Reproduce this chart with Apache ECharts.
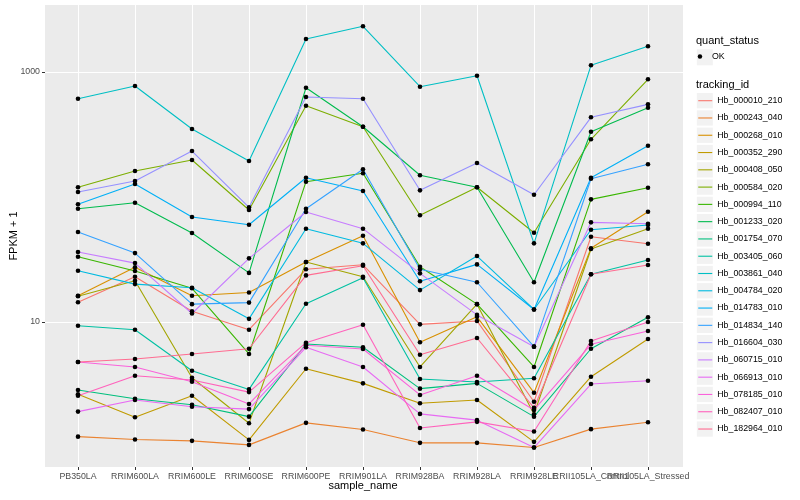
<!DOCTYPE html>
<html><head><meta charset="utf-8">
<script src="https://cdn.jsdelivr.net/npm/echarts@6/dist/echarts.min.js"></script>
<style>html,body{margin:0;padding:0;background:#fff}#chart{width:800px;height:500px}</style>
</head><body><div id="chart"></div>
<script>
const categories = ['PB350LA','RRIM600LA','RRIM600LE','RRIM600SE','RRIM600PE','RRIM901LA','RRIM928BA','RRIM928LA','RRIM928LE','RRII105LA_Control','RRII105LA_Stressed'];
const yTickLabels = [10, 1000];
const trackingIds = ['Hb_000010_210','Hb_000243_040','Hb_000268_010','Hb_000352_290','Hb_000408_050','Hb_000584_020','Hb_000994_110','Hb_001233_020','Hb_001754_070','Hb_003405_060','Hb_003861_040','Hb_004784_020','Hb_014783_010','Hb_014834_140','Hb_016604_030','Hb_060715_010','Hb_066913_010','Hb_078185_010','Hb_082407_010','Hb_182964_010'];
const quantStatus = ['OK'];

const Hb_000010_210 = [14.4, 23.0, 12.2, 8.68, 26.4, 28.7, 9.58, 10.2, 2.30, 48.1, 42.3];
const Hb_000243_040 = [1.21, 1.15, 1.12, 1.04, 1.56, 1.38, 1.08, 1.08, 0.99, 1.39, 1.58];
const Hb_000268_010 = [16.2, 27.4, 16.2, 17.2, 30.2, 49.0, 6.88, 11.0, 2.72, 38.9, 76.3];
const Hb_000352_290 = [2.64, 1.73, 2.57, 1.14, 4.23, 3.23, 2.24, 2.38, 1.10, 3.65, 7.31];
const Hb_000408_050 = [16.1, 21.4, 3.58, 1.55, 30.2, 23.0, 4.37, 13.9, 1.83, 38.4, 55.8];
const Hb_000584_020 = [119.6, 161.4, 197.7, 78.7, 537.5, 365.1, 71.4, 119.6, 51.8, 289.4, 874];
const Hb_000994_110 = [33.3, 25.6, 18.6, 5.55, 132.6, 154.7, 27.7, 13.9, 4.37, 95.8, 118.7];
const Hb_001233_020 = [80.6, 90.0, 51.5, 24.7, 748.7, 365, 149.2, 119.6, 20.8, 333, 518];
const Hb_001754_070 = [2.86, 2.43, 2.18, 1.75, 6.67, 6.28, 2.93, 3.23, 1.75, 6.11, 10.9];
const Hb_003405_060 = [9.34, 8.68, 4.08, 2.89, 14.0, 22.6, 3.50, 3.31, 3.55, 24.1, 31.3];
const Hb_003861_040 = [611, 773, 350, 194, 1837, 2321, 763, 934, 42.6, 1131, 1605];
const Hb_004784_020 = [25.7, 20.1, 18.8, 10.6, 55.8, 42.6, 18.0, 33.7, 12.6, 54.7, 59.7];
const Hb_014783_010 = [87.4, 127.1, 69.2, 60.0, 142.7, 111.7, 21.2, 28.9, 12.6, 142.7, 257.3];
const Hb_014834_140 = [52.5, 35.6, 13.9, 14.3, 80.6, 166.6, 26.4, 20.8, 6.35, 140.1, 182.6];
const Hb_016604_030 = [109.6, 134.3, 233.3, 82.7, 631, 611, 113.1, 187.1, 104.3, 434, 551];
const Hb_060715_010 = [36.3, 29.6, 11.7, 32.3, 75.9, 55.8, 24.5, 11.4, 6.35, 62.7, 61.1];
const Hb_066913_010 = [1.92, 2.38, 2.10, 2.01, 6.28, 4.37, 1.84, 1.64, 0.99, 3.19, 3.39];
const Hb_078185_010 = [4.79, 4.37, 3.33, 2.21, 6.51, 6.08, 2.61, 3.72, 1.98, 6.63, 8.47];
const Hb_082407_010 = [2.57, 3.72, 3.44, 2.75, 6.83, 9.51, 1.42, 1.59, 1.33, 7.05, 10.0];
const Hb_182964_010 = [4.79, 5.06, 5.55, 6.11, 23.6, 28.2, 5.47, 7.45, 2.06, 24.1, 28.6];

const seriesValues = [Hb_000010_210, Hb_000243_040, Hb_000268_010, Hb_000352_290, Hb_000408_050, Hb_000584_020, Hb_000994_110, Hb_001233_020, Hb_001754_070, Hb_003405_060, Hb_003861_040, Hb_004784_020, Hb_014783_010, Hb_014834_140, Hb_016604_030, Hb_060715_010, Hb_066913_010, Hb_078185_010, Hb_082407_010, Hb_182964_010];

const palette = ['#F8766D','#EA8331','#D89000','#C09B00','#A3A500','#7CAE00','#39B600','#00BB4E','#00BF7D','#00C1A3','#00BFC4','#00BAE0','#00B0F6','#35A2FF','#9590FF','#C77CFF','#E76BF3','#FA62DB','#FF62BC','#FF6C91'];

const FONT = '"Liberation Sans", Arial, Helvetica, sans-serif';
const yMin = 0.692, yMax = 3436;

const chart = echarts.init(document.getElementById('chart'), null, {renderer: 'canvas'});

const lineSeries = trackingIds.map((id, i) => ({
  name: id, type: 'line', xAxisIndex: 1, yAxisIndex: 1,
  data: seriesValues[i], symbol: 'none', showSymbol: false,
  lineStyle: {color: palette[i], width: 1.1},
  itemStyle: {color: palette[i]},
  emphasis: {disabled: true}, z: 2
}));

const points = [];
seriesValues.forEach(arr => arr.forEach((v, j) => points.push([j, v])));

const keyStep = 17.28;
const firstKeyCenter = 100.7;
const iconH = keyStep;
const iconBoxH = iconH * 0.8;
const legendTop = firstKeyCenter - iconBoxH / 2;

const graphics = [
  {type: 'text', x: 696, y: 40.7, style: {text: 'quant_status', fontSize: 11, fontFamily: FONT, fill: '#000', verticalAlign: 'middle'}},
  {type: 'text', x: 696, y: 85, style: {text: 'tracking_id', fontSize: 11, fontFamily: FONT, fill: '#000', verticalAlign: 'middle'}},
  {type: 'rect', shape: {x: 696.8, y: 49.3, width: 16, height: 16}, style: {fill: '#F2F2F2'}, z: -1}
];
trackingIds.forEach((id, i) => {
  graphics.push({type: 'rect', shape: {x: 696.8, y: firstKeyCenter - keyStep / 2 + i * keyStep + 1, width: 16, height: keyStep - 2}, style: {fill: '#F2F2F2'}, z: -1});
});

const option = {
  animation: false,
  backgroundColor: '#fff',
  grid: [
    {left: 45, right: 117, top: 5, bottom: 33, show: true, backgroundColor: '#EBEBEB', borderWidth: 0, containLabel: false, outerBoundsMode: 'none'},
    {left: 78, right: 152, top: 5, bottom: 33, show: false, containLabel: false, outerBoundsMode: 'none'}
  ],
  xAxis: [
    {type: 'value', gridIndex: 0, min: 0, max: 1, show: false},
    {type: 'category', gridIndex: 1, data: categories, boundaryGap: false,
     axisLine: {show: false},
     axisTick: {show: true, length: 3, lineStyle: {color: '#333333', width: 1}},
     axisLabel: {interval: 0, color: '#4D4D4D', fontSize: 8.8, fontFamily: FONT, margin: 5, hideOverlap: false},
     splitLine: {show: true, lineStyle: {color: '#FFFFFF', width: 1.05}},
     name: 'sample_name', nameLocation: 'middle', nameGap: 13, nameMoveOverlap: false,
     nameTextStyle: {fontSize: 11, color: '#000', fontFamily: FONT}}
  ],
  yAxis: [
    {type: 'log', logBase: 10, gridIndex: 0, min: yMin, max: yMax,
     axisLine: {show: false},
     axisTick: {show: true, length: 3, lineStyle: {color: '#333333'}, customValues: yTickLabels},
     axisLabel: {color: '#4D4D4D', fontSize: 8.8, fontFamily: FONT, margin: 5,
       formatter: v => {
         const l = Math.log10(v), r = Math.round(l);
         if (Math.abs(l - r) < 1e-6 && yTickLabels.indexOf(Math.pow(10, r)) >= 0) return String(Math.pow(10, r));
         return '';
       }},
     splitLine: {show: true, lineStyle: {color: '#FFFFFF', width: 1}},
     name: 'FPKM + 1', nameLocation: 'middle', nameGap: 26, nameMoveOverlap: false,
     nameTextStyle: {fontSize: 11, color: '#000', fontFamily: FONT}},
    {type: 'log', logBase: 10, gridIndex: 1, min: yMin, max: yMax, show: false}
  ],
  legend: [
    {data: trackingIds, orient: 'vertical', left: 697.7, top: legendTop, itemWidth: 14, itemHeight: iconH, itemGap: keyStep - iconBoxH, padding: 0,
     selectedMode: false, textStyle: {fontSize: 8.8, color: '#000', fontFamily: FONT},
     itemStyle: {opacity: 0}, lineStyle: {width: 1.1}},
    {data: quantStatus, orient: 'vertical', left: 697.7, top: 52, itemWidth: 14, itemHeight: 4.5, padding: 0, icon: 'circle',
     selectedMode: false, textStyle: {fontSize: 8.8, color: '#000', fontFamily: FONT}}
  ],
  graphic: graphics,
  series: lineSeries.concat([{
    name: quantStatus[0], type: 'scatter', xAxisIndex: 1, yAxisIndex: 1, data: points,
    symbol: 'circle', symbolSize: 4.6, itemStyle: {color: '#000', opacity: 1}, z: 5,
    emphasis: {disabled: true}
  }])
};
chart.setOption(option);
</script></body></html>
